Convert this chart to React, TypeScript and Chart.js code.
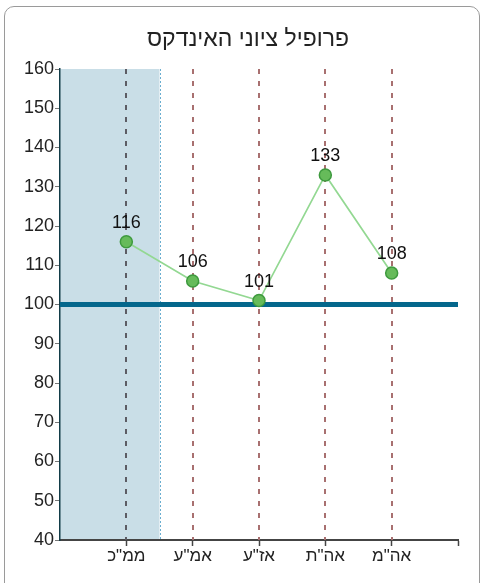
import React, { useEffect, useRef } from "react";
import { Chart, registerables } from "chart.js";

Chart.register(...registerables);

const TITLE = "פרופיל ציוני האינדקס";
const CATEGORIES = ['ממ"כ', 'אמ"ע', 'אז"ע', 'אה"ת', 'אה"מ'];
const SCORES = [116, 106, 101, 133, 108];
const BASELINE = 100;
const X_RANGE = [0, 6];
const Y_RANGE = [40, 160];
const Y_STEP = 10;
const SHADE_RANGE = [0, 1.5];

const FONT = "'Liberation Sans', Arial, sans-serif";

export default function App() {
  const canvasRef = useRef<HTMLCanvasElement | null>(null);

  useEffect(() => {
    const canvas = canvasRef.current;
    if (!canvas) return;

    const shadePlugin = {
      id: "shade",
      beforeDraw(chart: any) {
        const { ctx, chartArea, scales } = chart;
        const x0 = scales.x.getPixelForValue(SHADE_RANGE[0]);
        const x1 = scales.x.getPixelForValue(SHADE_RANGE[1]);
        ctx.save();
        ctx.fillStyle = "#c9dee7";
        ctx.fillRect(x0, chartArea.top, x1 - x0, chartArea.bottom - chartArea.top);
        ctx.strokeStyle = "#6aaed0";
        ctx.lineWidth = 1;
        ctx.setLineDash([2, 2]);
        ctx.beginPath();
        ctx.moveTo(Math.round(x1) + 0.5, chartArea.top);
        ctx.lineTo(Math.round(x1) + 0.5, chartArea.bottom);
        ctx.stroke();
        ctx.restore();

        // title
        ctx.save();
        ctx.font = `23px ${FONT}`;
        ctx.fillStyle = "#222";
        ctx.textAlign = "center";
        ctx.textBaseline = "middle";
        ctx.fillText(TITLE, 248, 40);
        ctx.restore();
      },
      beforeDatasetsDraw(chart: any) {
        const { ctx, chartArea, scales } = chart;
        ctx.save();
        ctx.lineWidth = 2;
        ctx.lineCap = "butt";
        ctx.setLineDash([5, 7]);
        CATEGORIES.forEach((_, i) => {
          const x = Math.round(scales.x.getPixelForValue(i + 1));
          ctx.strokeStyle = i === 0 ? "#5c5c64" : "#a87070";
          ctx.beginPath();
          ctx.moveTo(x, chartArea.top);
          ctx.lineTo(x, chartArea.bottom);
          ctx.stroke();
        });
        ctx.restore();
      },
    };

    const labelPlugin = {
      id: "pointLabels",
      afterDatasetsDraw(chart: any) {
        const { ctx } = chart;
        const meta = chart.getDatasetMeta(1);
        ctx.save();
        ctx.font = `18px ${FONT}`;
        ctx.fillStyle = "#111";
        ctx.textAlign = "center";
        ctx.textBaseline = "middle";
        meta.data.forEach((pt: any, i: number) => {
          ctx.fillText(String(SCORES[i]), pt.x, pt.y - 19);
        });
        ctx.restore();
      },
    };

    const chart = new Chart(canvas, {
      type: "line",
      data: {
        datasets: [
          {
            label: "baseline",
            data: [
              { x: X_RANGE[0], y: BASELINE },
              { x: X_RANGE[1], y: BASELINE },
            ],
            borderColor: "#04678c",
            borderWidth: 5,
            pointRadius: 0,
            order: 2,
          },
          {
            label: "scores",
            data: SCORES.map((v, i) => ({ x: i + 1, y: v })),
            borderColor: "#93d892",
            borderWidth: 1.7,
            pointRadius: 6,
            pointBackgroundColor: "#66bb5a",
            pointBorderColor: "#3e9a3e",
            pointBorderWidth: 1.5,
            order: 1,
          },
        ],
      },
      options: {
        animation: false,
        responsive: false,
        maintainAspectRatio: false,
        devicePixelRatio: 1,
        layout: { padding: { left: 15, right: 25, top: 69, bottom: 0 } },
        plugins: {
          legend: { display: false },
          tooltip: { enabled: false },
          title: { display: false },
        },
        scales: {
          x: {
            type: "linear",
            min: X_RANGE[0],
            max: X_RANGE[1],
            afterFit(scale: any) {
              scale.height = 43;
            },
            ticks: {
              stepSize: 1,
              autoSkip: false,
              maxRotation: 0,
              padding: 0,
              color: "#222",
              font: { family: FONT, size: 17 },
              callback: (v: any) => {
                const n = Number(v);
                return n >= 1 && n <= CATEGORIES.length ? CATEGORIES[n - 1] : "";
              },
            },
            grid: {
              drawOnChartArea: false,
              drawTicks: true,
              tickLength: 6,
              tickWidth: 1.5,
              tickColor: (ctx: any) =>
                ctx.tick && ctx.tick.value === X_RANGE[0] ? "rgba(0,0,0,0)" : "#444",
            },
            border: {
              display: true,
              color: "#444",
              width: 2,
            },
          },
          y: {
            type: "linear",
            min: Y_RANGE[0],
            max: Y_RANGE[1],
            afterFit(scale: any) {
              scale.width = 45;
            },
            ticks: {
              stepSize: Y_STEP,
              padding: 1,
              color: "#222",
              font: { family: FONT, size: 18 },
            },
            grid: {
              drawOnChartArea: false,
              drawTicks: true,
              tickLength: 5,
              tickColor: "#777",
            },
            border: {
              display: true,
              color: "#123c48",
              width: 1.5,
            },
          },
        },
      },
      plugins: [shadePlugin, labelPlugin],
    });

    return () => chart.destroy();
  }, []);

  return (
    <>
      <div
        style={{
          position: "fixed",
          left: 4,
          top: 6,
          width: 476,
          height: 600,
          border: "1.5px solid #9a9a9a",
          borderRadius: 10,
          boxSizing: "border-box",
        }}
      />
      <canvas
        ref={canvasRef}
        width={483}
        height={583}
        style={{ position: "fixed", left: 0, top: 0, width: 483, height: 583 }}
      />
    </>
  );
}
